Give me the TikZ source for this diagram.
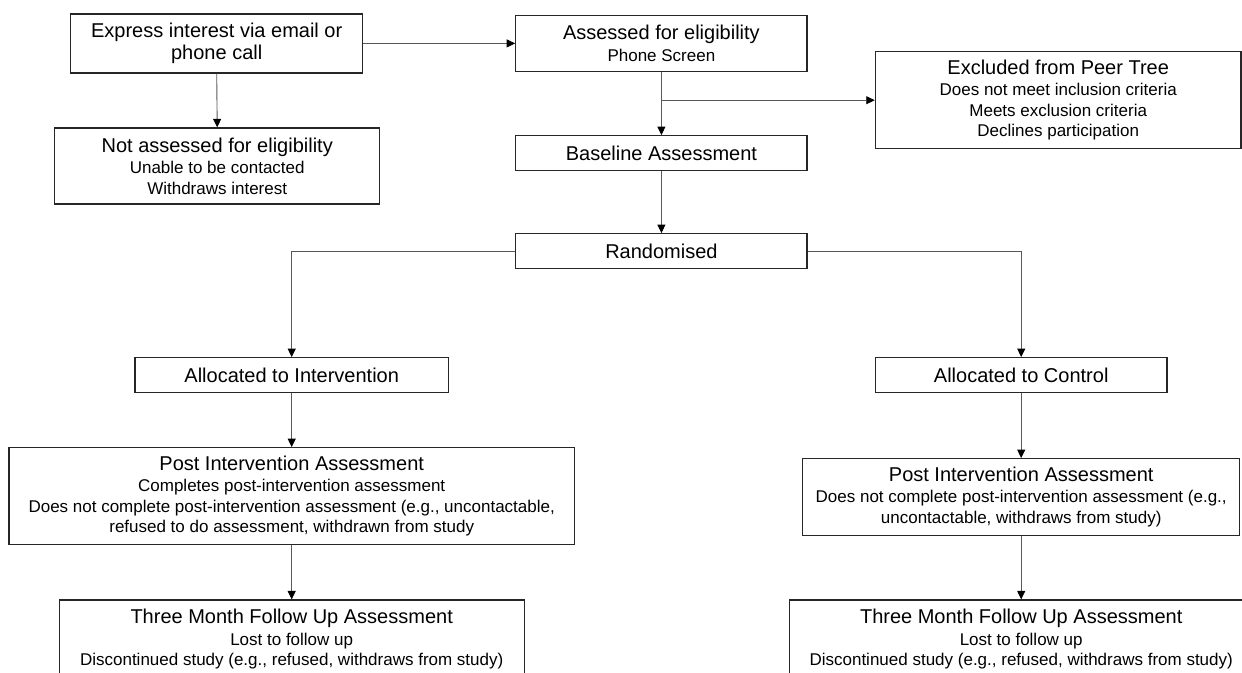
\documentclass[tikz,border=0pt]{standalone}
\usepackage{fontspec}
\setmainfont{Liberation Sans}
\usetikzlibrary{arrows.meta, positioning, calc}

\newcommand{\stagetitle}[1]{{\fontsize{20}{22}\selectfont #1}}

\begin{document}
\begin{tikzpicture}[x=1pt, y=-1pt,
    stage/.style={draw=black!85, line width=1.2pt, minimum height=35pt, inner sep=0pt, align=center, font=\fontsize{17}{20.5}\selectfont},
    flow/.style={draw=black!65, line width=0.9pt, -{Triangle[length=8.5pt, width=8pt, color=black]}},
    ]
    \useasboundingbox (0,0) rectangle (1242,672);
    \clip (0,0) rectangle (1242,672);

    % Enrolment (top)
    \node[stage, minimum width=292pt, minimum height=59pt] (express) at (216.7,43.4) {\stagetitle{Express interest via email or}\\[1.8pt]\stagetitle{phone call}};
    \node[stage, minimum width=325pt, minimum height=76pt] (notassessed) at (217.2,166) {\stagetitle{Not assessed for eligibility}\\[1pt]Unable to be contacted\\Withdraws interest};
    \node[stage, minimum width=291.3pt, minimum height=55.6pt] (assessed) at (661.4,43.5) {\stagetitle{Assessed for eligibility}\\[1pt]Phone Screen};
    \node[stage, minimum width=365.7pt, minimum height=97pt] (excluded) at (1058.2,100.2) {\stagetitle{Excluded from Peer Tree}\\[1pt]Does not meet inclusion criteria\\Meets exclusion criteria\\Declines participation};
    \node[stage, minimum width=291.3pt] (baseline) at (661.4,153.2) {\stagetitle{Baseline Assessment}};
    \node[stage, minimum width=291.3pt] (random) at (661.4,251.2) {\stagetitle{Randomised}};

    % Intervention arm (left)
    \node[stage, minimum width=313.4pt] (allocint) at (291.7,375.2) {\stagetitle{Allocated to Intervention}};
    \node[stage, minimum width=565.4pt, minimum height=97pt] (postint) at (291.7,496.2) {\stagetitle{Post Intervention Assessment}\\[1pt]Completes post-intervention assessment\\Does not complete post-intervention assessment (e.g., uncontactable,\\refused to do assessment, withdrawn from study};
    \node[stage, minimum width=464.8pt, minimum height=79pt] (followint) at (291.7,639.5) {\stagetitle{Three Month Follow Up Assessment}\\[1pt]Lost to follow up\\Discontinued study (e.g., refused, withdraws from study)};

    % Control arm (right)
    \node[stage, minimum width=291.7pt] (allocctl) at (1021.2,375.2) {\stagetitle{Allocated to Control}};
    \node[stage, minimum width=437pt, minimum height=76.6pt] (postctl) at (1021.2,497) {\stagetitle{Post Intervention Assessment}\\[1pt]Does not complete post-intervention assessment (e.g.,\\uncontactable, withdraws from study)};
    \node[stage, minimum width=463.4pt, minimum height=79pt] (followctl) at (1021.2,639.5) {\stagetitle{Three Month Follow Up Assessment}\\[1pt]Lost to follow up\\Discontinued study (e.g., refused, withdraws from study)};

    % Connectors
    \coordinate (branch) at (assessed.south |- excluded.west);
    \draw[flow] (express.east) -- (express.east -| assessed.west);
    \draw[flow] (express.south) -- (notassessed.north);
    \draw[flow] (assessed.south) -- (baseline.north);
    \draw[flow] (branch) -- (excluded.west);
    \draw[flow] (baseline.south) -- (random.north);
    \draw[flow] (random.west) -| (allocint.north);
    \draw[flow] (random.east) -| (allocctl.north);
    \draw[flow] (allocint.south) -- (postint.north);
    \draw[flow] (postint.south) -- (followint.north);
    \draw[flow] (allocctl.south) -- (postctl.north);
    \draw[flow] (postctl.south) -- (followctl.north);
\end{tikzpicture}
\end{document}
